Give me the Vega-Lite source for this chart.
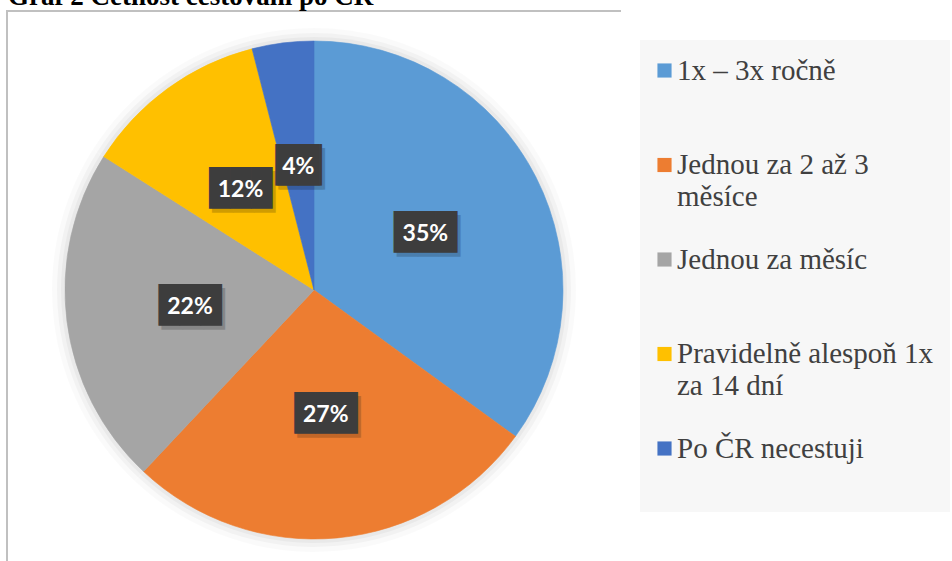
{
  "$schema": "https://vega.github.io/schema/vega-lite/v6.json",
  "width": 614,
  "height": 558,
  "autosize": {"type": "none"},
  "padding": {"left": 7, "top": 11, "right": 331, "bottom": 0},
  "background": "white",
  "view": {"stroke": "#c0c0c0", "strokeWidth": 2, "strokeDash": [614, 1172, 560]},
  "title": {
    "text": "Graf 2 Četnost cestování po ČR",
    "anchor": "start",
    "frame": "group",
    "font": "Liberation Serif",
    "fontSize": 27,
    "fontWeight": "bold",
    "color": "#000000",
    "baseline": "alphabetic",
    "offset": -21,
    "dx": 1
  },
  "data": {
    "values": [
      {"category": "1x – 3x ročně", "share": 0.35},
      {"category": "Jednou za 2 až 3 měsíce", "share": 0.27},
      {"category": "Jednou za měsíc", "share": 0.22},
      {"category": "Pravidelně alespoň 1x za 14 dní", "share": 0.12},
      {"category": "Po ČR necestuji", "share": 0.04}
    ]
  },
  "encoding": {
    "theta": {"field": "share", "type": "quantitative", "stack": true},
    "order": {"field": "share", "type": "quantitative", "sort": "descending"}
  },
  "layer": [
    {
      "mark": {"type": "arc", "radius": 262, "fill": "#000000", "opacity": 0.02},
      "encoding": {"detail": {"field": "category"}}
    },
    {
      "mark": {"type": "arc", "radius": 257, "fill": "#000000", "opacity": 0.03},
      "encoding": {"detail": {"field": "category"}}
    },
    {
      "mark": {"type": "arc", "radius": 253, "fill": "#000000", "opacity": 0.035},
      "encoding": {"detail": {"field": "category"}}
    },
    {
      "mark": {"type": "arc", "radius": 249, "strokeWidth": 0.6},
      "encoding": {
        "color": {
          "field": "category",
          "type": "nominal",
          "scale": {
            "domain": ["1x – 3x ročně", "Jednou za 2 až 3 měsíce", "Jednou za měsíc", "Pravidelně alespoň 1x za 14 dní", "Po ČR necestuji"],
            "range": ["#5B9BD5", "#ED7D31", "#A5A5A5", "#FFC000", "#4472C4"]
          },
          "legend": {
            "title": null,
            "orient": "none",
            "legendX": 633,
            "legendY": 29,
            "fillColor": "#f7f7f7",
            "padding": 16,
            "symbolType": "square",
            "symbolSize": 200,
            "symbolStrokeWidth": 0,
            "symbolOffset": -6,
            "labelFont": "Liberation Serif",
            "labelFontSize": 29,
            "labelColor": "#404040",
            "labelOffset": -2,
            "labelLimit": 400,
            "labelBaseline": "middle",
            "rowPadding": 32.5,
            "gridAlign": "all",
            "labelExpr": "datum.label == 'Jednou za 2 až 3 měsíce' ? ['Jednou za 2 až 3', 'měsíce'] : datum.label == 'Pravidelně alespoň 1x za 14 dní' ? ['Pravidelně alespoň 1x', 'za 14 dní'] : [datum.label, '']"
          }
        },
        "stroke": {
          "field": "category",
          "type": "nominal",
          "scale": {
            "domain": ["1x – 3x ročně", "Jednou za 2 až 3 měsíce", "Jednou za měsíc", "Pravidelně alespoň 1x za 14 dní", "Po ČR necestuji"],
            "range": ["#5B9BD5", "#ED7D31", "#A5A5A5", "#FFC000", "#4472C4"]
          },
          "legend": null
        }
      }
    },
    {
      "mark": {"type": "text", "radius": 125, "font": "DejaVu Sans Mono", "fontSize": 35, "baseline": "middle", "align": "center", "color": "#000000", "opacity": 0.18, "dx": 3, "dy": 4},
      "encoding": {
        "detail": {"field": "category"},
        "text": {"condition": {"test": "datum.share < 0.1", "value": "▕██▏"}, "value": "███"}
      }
    },
    {
      "mark": {"type": "text", "radius": 125, "font": "DejaVu Sans Mono", "fontSize": 35, "baseline": "middle", "align": "center", "color": "#3d3d3d"},
      "encoding": {
        "detail": {"field": "category"},
        "text": {"condition": {"test": "datum.share < 0.1", "value": "▕██▏"}, "value": "███"}
      }
    },
    {
      "mark": {"type": "text", "radius": 125, "font": "Lato", "fontSize": 23, "fontWeight": "bold", "baseline": "middle", "align": "center", "color": "#ffffff", "dy": 1},
      "encoding": {
        "detail": {"field": "category"},
        "text": {"field": "share", "type": "quantitative", "format": ".0%"}
      }
    }
  ],
  "config": {
    "style": {"guide-label": {"lineHeight": 32}}
  }
}
